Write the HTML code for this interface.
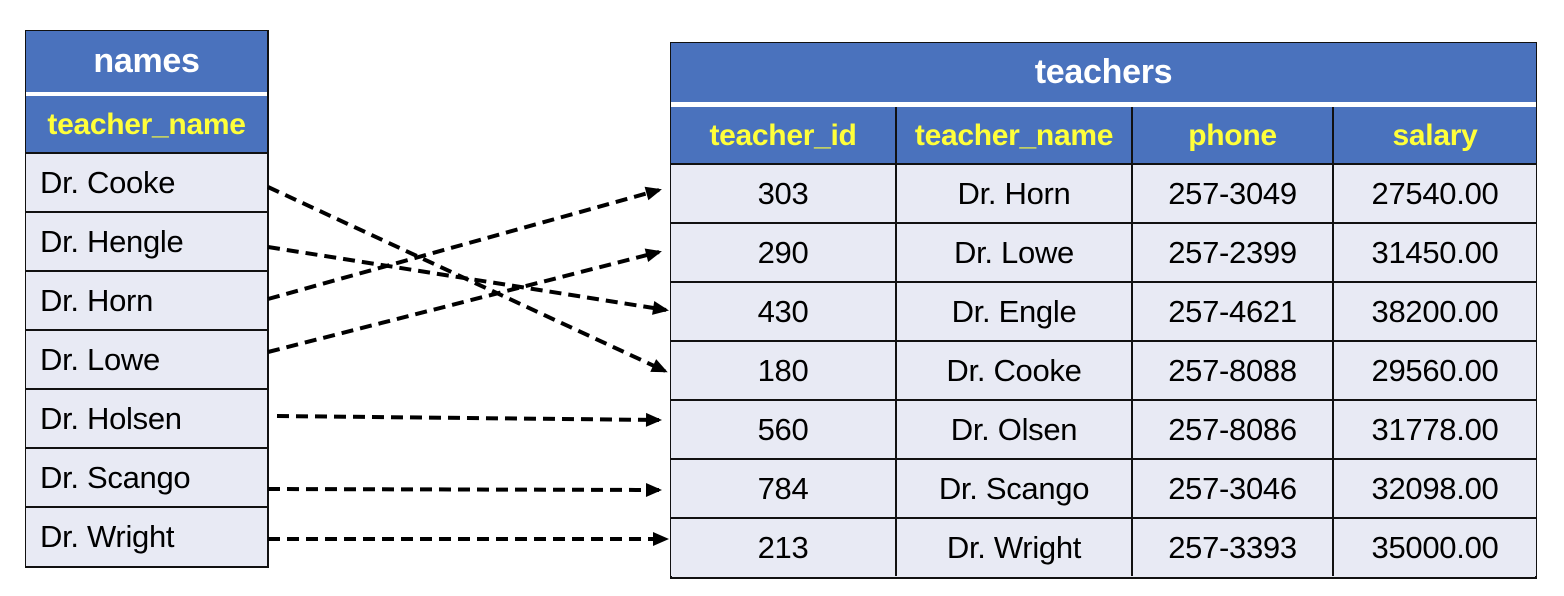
<!DOCTYPE html>
<html><head><meta charset="utf-8"><style>
body{margin:0;width:1564px;height:596px;background:#fff;position:relative;overflow:hidden;font-family:"Liberation Sans",sans-serif}
.b{position:absolute;box-sizing:border-box}
.t{display:flex;align-items:center;justify-content:center;position:absolute;box-sizing:border-box;letter-spacing:-0.3px}
.hd{background:#4a72bd;color:#fff;font-weight:bold;font-size:34px}
.ch{background:#4a72bd;color:#ffff3a;font-weight:bold;font-size:30px;border-right:2px solid #111}
.c{background:#e8eaf4;color:#000;font-size:31px;border-right:2px solid #111;border-top:2px solid #111}
.l{justify-content:flex-start;padding-left:14px}
</style></head><body>
<div class="b" style="left:25px;top:30px;width:244px;height:538px;border:2px solid #111;background:#e8eaf4"></div>
<div class="t hd" style="left:26px;top:31px;width:241px;height:61px">names</div>
<div class="b" style="left:26px;top:92px;width:241px;height:4px;background:#fff"></div>
<div class="t ch" style="left:26px;top:96px;width:241px;height:57px;border-right:none">teacher_name</div>
<div class="t c l" style="left:26px;top:152px;width:241px;height:60px;border-right:none">Dr. Cooke</div>
<div class="t c l" style="left:26px;top:211px;width:241px;height:60px;border-right:none">Dr. Hengle</div>
<div class="t c l" style="left:26px;top:270px;width:241px;height:60px;border-right:none">Dr. Horn</div>
<div class="t c l" style="left:26px;top:329px;width:241px;height:60px;border-right:none">Dr. Lowe</div>
<div class="t c l" style="left:26px;top:388px;width:241px;height:60px;border-right:none">Dr. Holsen</div>
<div class="t c l" style="left:26px;top:447px;width:241px;height:60px;border-right:none">Dr. Scango</div>
<div class="t c l" style="left:26px;top:506px;width:241px;height:60px;border-right:none">Dr. Wright</div>
<div class="b" style="left:670px;top:42px;width:867px;height:537px;border:2px solid #111;background:#e8eaf4"></div>
<div class="t hd" style="left:671px;top:43px;width:865px;height:59px">teachers</div>
<div class="b" style="left:671px;top:102px;width:865px;height:5px;background:#fff"></div>
<div id="r"></div>
<svg width="1564" height="596" style="position:absolute;left:0;top:0">
<defs><marker id="a" markerWidth="16" markerHeight="14" refX="13" refY="7" orient="auto" markerUnits="userSpaceOnUse" overflow="visible"><path d="M0,0L16,7L0,14z" fill="#000" stroke="none"/></marker></defs>
<g stroke="#000" stroke-width="4" stroke-dasharray="12 7" fill="none" marker-end="url(#a)">
<line x1="268" y1="187" x2="665" y2="371"/>
<line x1="268" y1="247" x2="666" y2="310"/>
<line x1="268" y1="299" x2="659" y2="190"/>
<line x1="268" y1="352" x2="659" y2="252"/>
<line x1="277" y1="416" x2="659" y2="420"/>
<line x1="268" y1="489" x2="659" y2="490"/>
<line x1="268" y1="539" x2="666" y2="539"/>
</g></svg>
<script>
var xs=[671,897,1133,1334,1536];
var H=["teacher_id","teacher_name","phone","salary"];
var D=[["303","Dr. Horn","257-3049","27540.00"],["290","Dr. Lowe","257-2399","31450.00"],["430","Dr. Engle","257-4621","38200.00"],["180","Dr. Cooke","257-8088","29560.00"],["560","Dr. Olsen","257-8086","31778.00"],["784","Dr. Scango","257-3046","32098.00"],["213","Dr. Wright","257-3393","35000.00"]];
var s="";
for(var j=0;j<4;j++){var w=xs[j+1]-xs[j];var br=j==3?"border-right:none;":"";
s+='<div class="t ch" style="left:'+xs[j]+'px;top:107px;width:'+w+'px;height:57px;'+br+'">'+H[j]+'</div>';
for(var i=0;i<7;i++){s+='<div class="t c" style="left:'+xs[j]+'px;top:'+(163+i*59)+'px;width:'+w+'px;height:'+(i==6?59:60)+'px;'+br+'">'+D[i][j]+'</div>';}}
document.getElementById("r").outerHTML=s;
</script>
</body></html>
